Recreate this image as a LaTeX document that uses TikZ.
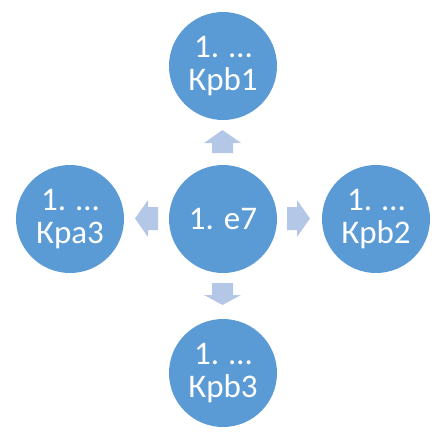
\documentclass[tikz,border=0pt]{standalone}
\usepackage{fontspec}
\setmainfont{Carlito}
\definecolor{circblue}{HTML}{5B9BD5}
\definecolor{arrblue}{HTML}{B4C7E7}
\begin{document}
\begin{tikzpicture}[x=1pt,y=-1pt,
  bubble/.style={circle,fill=circblue,draw=none,minimum size=108pt,inner sep=0pt,
    text=white,align=center,font=\fontsize{33}{33}\selectfont},
  blockarrow/.style={fill=arrblue,draw=none}]
\useasboundingbox (0,0) rectangle (441,445);
\node[bubble] (c) at (223,219) {1. e7};
\node[bubble] (t) at (223,66) {1. …\\Крb1};
\node[bubble] (l) at (70,219) {1. …\\Кра3};
\node[bubble] (r) at (376,219) {1. …\\Крb2};
\node[bubble] (b) at (223,373) {1. …\\Крb3};
% up arrow
\fill[blockarrow] (222.5,130) -- (241,143) -- (233,143) -- (233,153) -- (212,153) -- (212,143) -- (204,143) -- cycle;
% down arrow
\fill[blockarrow] (222.5,305) -- (241,295) -- (233,295) -- (233,283) -- (212,283) -- (212,295) -- (204,295) -- cycle;
% right arrow
\fill[blockarrow] (310,218.5) -- (297,237) -- (297,230) -- (287,230) -- (287,207) -- (297,207) -- (297,200) -- cycle;
% left arrow
\fill[blockarrow] (135,218.5) -- (148,237) -- (148,230) -- (158,230) -- (158,207) -- (148,207) -- (148,200) -- cycle;
\end{tikzpicture}
\end{document}
